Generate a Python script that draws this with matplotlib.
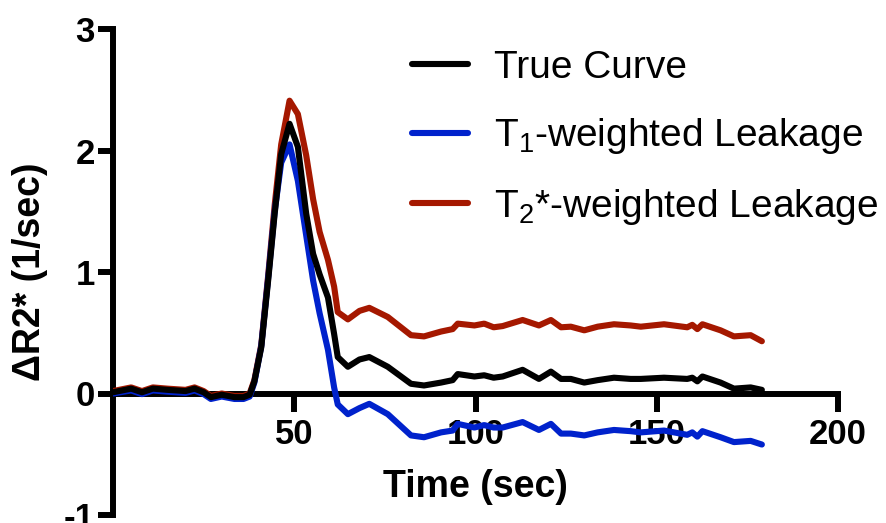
import matplotlib.pyplot as plt

# values
time_s = [0, 5, 8, 11, 15, 20, 22.5, 25, 27, 30, 33.5, 36, 37.7, 39, 40.9, 42.8,
          44.6, 46.4, 48.7, 51, 53.3, 55.2, 57, 59.3, 61, 62, 64.8, 68, 70.7, 75.8,
          82.2, 85.8, 90.5, 93.7, 95.1, 99.7, 102.4, 105, 107.5, 113, 117.5, 120.8,
          123.6, 126.3, 130, 133.7, 138.2, 142.8, 145.6, 152, 158.4, 159.8, 161.2,
          162.6, 167.6, 171.3, 175.9, 179]

true_curve = [0.01, 0.04, 0.01, 0.04, 0.03, 0.02, 0.04, 0.01, -0.03, -0.01, -0.03, -0.03,
              -0.01, 0.10, 0.38, 0.93, 1.48, 1.97, 2.22, 2.03, 1.48, 1.15, 0.98, 0.79,
              0.49, 0.30, 0.22, 0.28, 0.30, 0.22, 0.08, 0.066, 0.09, 0.11, 0.16, 0.14,
              0.15, 0.13, 0.14, 0.195, 0.12, 0.18, 0.12, 0.12, 0.09, 0.11, 0.13, 0.12,
              0.12, 0.13, 0.12, 0.13, 0.10, 0.14, 0.09, 0.04, 0.05, 0.03]

t1_leak = [0.00, 0.025, -0.005, 0.025, 0.015, 0.005, 0.025, -0.005, -0.045, -0.025,
           -0.045, -0.045, -0.025, 0.09, 0.39, 0.95, 1.50, 1.90, 2.05, 1.75, 1.30, 0.93,
           0.66, 0.36, 0.05, -0.09, -0.17, -0.12, -0.085, -0.17, -0.345, -0.36, -0.32,
           -0.305, -0.25, -0.28, -0.26, -0.28, -0.28, -0.235, -0.30, -0.25, -0.33,
           -0.33, -0.345, -0.32, -0.30, -0.31, -0.32, -0.305, -0.34, -0.32, -0.355,
           -0.31, -0.36, -0.40, -0.39, -0.42]

t2_leak = [0.02, 0.05, 0.02, 0.05, 0.04, 0.03, 0.05, 0.02, -0.02, 0.00, -0.02, -0.02,
           0.00, 0.11, 0.40, 0.97, 1.55, 2.05, 2.41, 2.30, 1.96, 1.60, 1.33, 1.10,
           0.88, 0.67, 0.61, 0.68, 0.705, 0.63, 0.48, 0.47, 0.51, 0.53, 0.575, 0.56,
           0.575, 0.545, 0.555, 0.605, 0.56, 0.605, 0.545, 0.55, 0.52, 0.55, 0.57,
           0.56, 0.55, 0.57, 0.545, 0.565, 0.53, 0.57, 0.52, 0.47, 0.48, 0.43]

x_ticks = [50, 100, 150, 200]
y_ticks = [-1, 0, 1, 2, 3]

plt.rcParams["font.family"] = ["Liberation Sans", "DejaVu Sans"]
plt.rcParams["axes.unicode_minus"] = False
plt.rcParams["mathtext.fontset"] = "custom"
plt.rcParams["mathtext.rm"] = "Liberation Sans"
plt.rcParams["mathtext.it"] = "Liberation Sans:italic"
plt.rcParams["mathtext.bf"] = "Liberation Sans:bold"

fig = plt.figure(figsize=(8.86, 5.23), dpi=100)
ax = fig.add_axes([113 / 886, 1 - 515 / 523, 725 / 886, 486 / 523])

lw = 4.4
l_red, = ax.plot(time_s, t2_leak, color="#A51800", lw=lw, zorder=3,
                 solid_joinstyle="round", solid_capstyle="round",
                 label="T$_2$*-weighted Leakage")
l_blue, = ax.plot(time_s, t1_leak, color="#0022CC", lw=lw, zorder=3,
                  solid_joinstyle="round", solid_capstyle="round",
                  label="T$_1$-weighted Leakage")
l_black, = ax.plot(time_s, true_curve, color="black", lw=lw, zorder=4,
                   solid_joinstyle="round", solid_capstyle="round",
                   label="True Curve")

ax.set_xlim(0, 200)
ax.set_ylim(-1, 3)
ax.spines["top"].set_visible(False)
ax.spines["right"].set_visible(False)
ax.spines["bottom"].set_position(("data", 0))
for s in ("left", "bottom"):
    ax.spines[s].set_linewidth(4.3)
ax.set_xticks(x_ticks)
ax.set_yticks(y_ticks)
ax.tick_params(axis="x", direction="out", length=13, width=4.3, pad=5, labelsize=25)
ax.tick_params(axis="y", direction="out", length=11, width=4.3, pad=2, labelsize=25)
for lab in ax.get_xticklabels() + ax.get_yticklabels():
    lab.set_fontweight("bold")

ax.set_xlabel("Time (sec)", fontsize=27, fontweight="bold", va="center")
ax.xaxis.set_label_coords(0.5, 0.058)
ax.set_ylabel("ΔR2* (1/sec)", fontsize=27, fontweight="bold", va="center")
ax.yaxis.set_label_coords(-0.114, 0.5)

leg = ax.legend(handles=[l_black, l_blue, l_red], loc="upper left",
                bbox_to_anchor=(412 / 886, 1 - 50 / 523), bbox_transform=fig.transFigure,
                frameon=False, fontsize=28, handlelength=1.45, handletextpad=0.66,
                labelspacing=0.78, borderpad=0, borderaxespad=0)

fig.savefig("out.png", dpi=100)
